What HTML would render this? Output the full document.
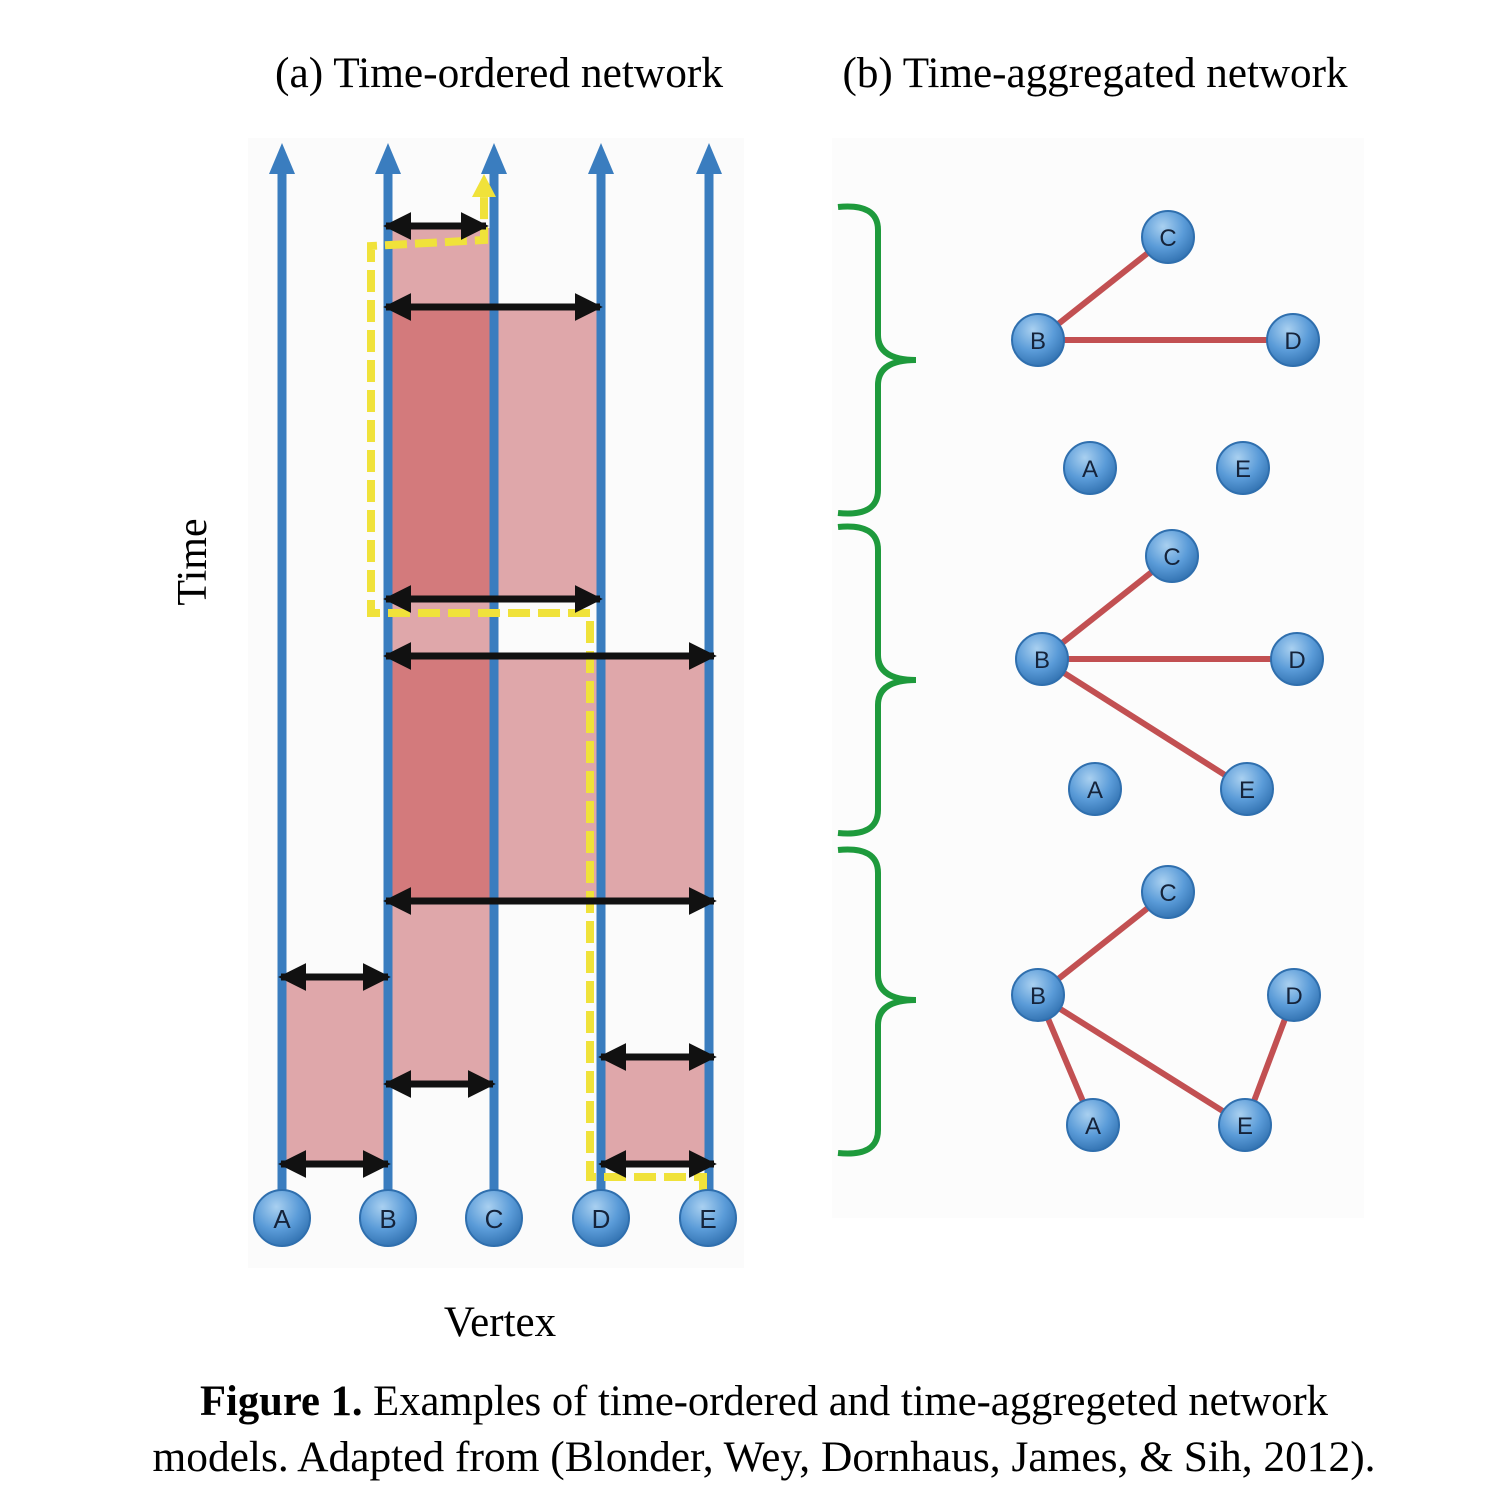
<!DOCTYPE html>
<html><head><meta charset="utf-8"><style>
html,body{margin:0;padding:0;background:#fff;width:1500px;height:1500px;overflow:hidden}
svg{display:block}
</style></head><body>
<svg width="1500" height="1500" viewBox="0 0 1500 1500" xmlns="http://www.w3.org/2000/svg">
<defs>
<radialGradient id="ng" cx="0.4" cy="0.3" r="0.75">
<stop offset="0" stop-color="#a9d0f0"/><stop offset="0.55" stop-color="#5a9bd8"/><stop offset="1" stop-color="#2f6fae"/>
</radialGradient>
<marker id="ah" viewBox="0 0 10 10" refX="9" refY="5" markerWidth="4" markerHeight="4" orient="auto-start-reverse">
<path d="M0,0 L10,5 L0,10 z" fill="#111"/></marker>
</defs>
<rect x="248" y="138" width="496" height="1130" fill="#fbfbfb"/>
<rect x="832" y="138" width="532" height="1080" fill="#fcfcfc"/>
<g font-family="Liberation Serif, serif" fill="#000">
<text x="499" y="87" font-size="43" text-anchor="middle" textLength="448" lengthAdjust="spacingAndGlyphs">(a) Time-ordered network</text>
<text x="1095" y="87" font-size="43" text-anchor="middle" textLength="505" lengthAdjust="spacingAndGlyphs">(b) Time-aggregated network</text>
<text x="500" y="1336" font-size="43" text-anchor="middle">Vertex</text>
<text transform="translate(206,562) rotate(-90)" font-size="42" text-anchor="middle">Time</text>
<text x="764" y="1415" font-size="43" text-anchor="middle" textLength="1128" lengthAdjust="spacingAndGlyphs"><tspan font-weight="bold">Figure 1.</tspan> Examples of time-ordered and time-aggregeted network</text>
<text x="764" y="1471" font-size="43" text-anchor="middle" textLength="1223" lengthAdjust="spacingAndGlyphs">models. Adapted from (Blonder, Wey, Dornhaus, James, &amp; Sih, 2012).</text>
</g>
<g>
<rect x="388" y="228" width="106" height="80" fill="#dfa7aa"/>
<rect x="388" y="308" width="106" height="292" fill="#d37a7c"/>
<rect x="494" y="308" width="107" height="292" fill="#dfa7aa"/>
<rect x="388" y="600" width="106" height="56" fill="#dfa7aa"/>
<rect x="388" y="656" width="106" height="244" fill="#d37a7c"/>
<rect x="494" y="656" width="215" height="244" fill="#dfa7aa"/>
<rect x="388" y="900" width="106" height="183" fill="#dfa7aa"/>
<rect x="282" y="977" width="106" height="188" fill="#dfa7aa"/>
<rect x="601" y="1057" width="108" height="108" fill="#dfa7aa"/>
</g>
<g stroke="#3a7dbf" stroke-width="9">
<line x1="282" y1="172" x2="282" y2="1205"/>
<line x1="388" y1="172" x2="388" y2="1205"/>
<line x1="494" y1="172" x2="494" y2="1205"/>
<line x1="601" y1="172" x2="601" y2="1205"/>
<line x1="709" y1="172" x2="709" y2="1205"/>
</g>
<g fill="#3a7dbf">
<path d="M282,143 L269,174 L295,174z"/><path d="M388,143 L375,174 L401,174z"/>
<path d="M494,143 L481,174 L507,174z"/><path d="M601,143 L588,174 L614,174z"/>
<path d="M709,143 L696,174 L722,174z"/>
</g>
<path d="M703,1190 L703,1177 L590,1177 L590,613 L371,613 L371,246 L484,240 L484,195" fill="none" stroke="#f0e23a" stroke-width="8" stroke-dasharray="22,8"/>
<path d="M484,174 L472,197 L496,197z" fill="#f0e23a"/>
<g stroke="#111" stroke-width="7" marker-start="url(#ah)" marker-end="url(#ah)">
<line x1="386" y1="226" x2="486" y2="226"/>
<line x1="386" y1="307" x2="600" y2="307"/>
<line x1="386" y1="599" x2="600" y2="599"/>
<line x1="386" y1="656" x2="714" y2="656"/>
<line x1="386" y1="901" x2="714" y2="901"/>
<line x1="281" y1="977" x2="388" y2="977"/>
<line x1="386" y1="1084" x2="493" y2="1084"/>
<line x1="601" y1="1057" x2="714" y2="1057"/>
<line x1="281" y1="1164" x2="388" y2="1164"/>
<line x1="601" y1="1164" x2="714" y2="1164"/>
</g>
<g font-family="Liberation Sans, sans-serif" font-size="26" text-anchor="middle" fill="#15233a">
<g stroke="#2f6fae" stroke-width="2" fill="url(#ng)">
<circle cx="282" cy="1218" r="28"/><circle cx="388" cy="1218" r="28"/><circle cx="494" cy="1218" r="28"/><circle cx="601" cy="1218" r="28"/><circle cx="708" cy="1218" r="28"/>
</g>
<text x="282" y="1228">A</text><text x="388" y="1228">B</text><text x="494" y="1228">C</text><text x="601" y="1228">D</text><text x="708" y="1228">E</text>
</g>
<g fill="none" stroke="#1e9a3c" stroke-width="6">
<path d="M838,207 Q878,203 878,230 L878,335 Q878,360 916,360 Q878,360 878,385 L878,490 Q878,517 838,513"/>
<path d="M838,527 Q878,523 878,550 L878,655 Q878,680 916,680 Q878,680 878,705 L878,810 Q878,837 838,833"/>
<path d="M838,850 Q878,846 878,873 L878,975 Q878,1000 916,1000 Q878,1000 878,1025 L878,1130 Q878,1157 838,1153"/>
</g>
<g stroke="#c25052" stroke-width="6">
<line x1="1038" y1="340" x2="1168" y2="237"/><line x1="1038" y1="340" x2="1293" y2="340"/>
<line x1="1042" y1="659" x2="1172" y2="556"/><line x1="1042" y1="659" x2="1297" y2="659"/><line x1="1042" y1="659" x2="1247" y2="789"/>
<line x1="1038" y1="995" x2="1168" y2="892"/><line x1="1038" y1="995" x2="1093" y2="1125"/><line x1="1038" y1="995" x2="1245" y2="1125"/><line x1="1245" y1="1125" x2="1294" y2="995"/>
</g>
<g stroke="#2f6fae" stroke-width="2" fill="url(#ng)">
<circle cx="1168" cy="237" r="26"/><circle cx="1038" cy="340" r="26"/><circle cx="1293" cy="340" r="26"/><circle cx="1090" cy="468" r="26"/><circle cx="1243" cy="468" r="26"/>
<circle cx="1172" cy="556" r="26"/><circle cx="1042" cy="659" r="26"/><circle cx="1297" cy="659" r="26"/><circle cx="1095" cy="789" r="26"/><circle cx="1247" cy="789" r="26"/>
<circle cx="1168" cy="892" r="26"/><circle cx="1038" cy="995" r="26"/><circle cx="1294" cy="995" r="26"/><circle cx="1093" cy="1125" r="26"/><circle cx="1245" cy="1125" r="26"/>
</g>
<g font-family="Liberation Sans, sans-serif" font-size="24" text-anchor="middle" fill="#15233a">
<text x="1168" y="246">C</text><text x="1038" y="349">B</text><text x="1293" y="349">D</text><text x="1090" y="477">A</text><text x="1243" y="477">E</text>
<text x="1172" y="565">C</text><text x="1042" y="668">B</text><text x="1297" y="668">D</text><text x="1095" y="798">A</text><text x="1247" y="798">E</text>
<text x="1168" y="901">C</text><text x="1038" y="1004">B</text><text x="1294" y="1004">D</text><text x="1093" y="1134">A</text><text x="1245" y="1134">E</text>
</g>
</svg>
</body></html>
